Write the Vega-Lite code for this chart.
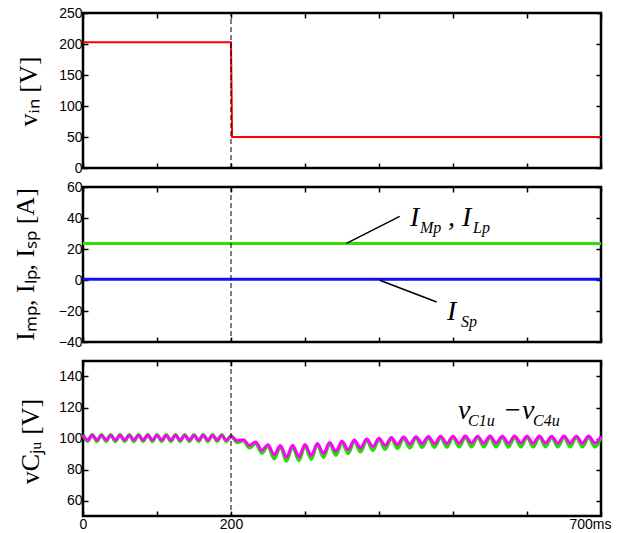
{
  "$schema": "https://vega.github.io/schema/vega-lite/v6.json",
  "autosize": {"type": "pad"},
  "padding": {"left": 10, "top": 4, "right": 10, "bottom": 2},
  "spacing": 19,
  "bounds": "flush",
  "config": {
    "view": {"stroke": "black", "strokeWidth": 2.5},
    "font": "Liberation Sans",
    "axis": {"domain": false, "grid": false, "tickColor": "black", "tickWidth": 1.5, "tickSize": -5, "minExtent": 0,
      "labelFont": "Liberation Sans", "labelFontSize": 14, "labelColor": "black", "labelPadding": 6,
      "titleFont": "Liberation Serif", "titleFontSize": 26, "titleFontWeight": "normal", "titleColor": "black"}
  },
  "datasets": {
    "vin": [{"t": 0, "v": 203}, {"t": 200, "v": 203}, {"t": 201.5, "v": 50}, {"t": 700, "v": 50}],
    "marker": [{"t": 200}],
    "iml": [{"t": 0, "v": 23.6}, {"t": 700, "v": 23.6}],
    "isp": [{"t": 0, "v": 0.5}, {"t": 700, "v": 0.5}],
    "lead2": [{"t": 356, "v": 23.6, "t2": 428, "v2": 41}, {"t": 401, "v": -0.2, "t2": 478, "v2": -14.2}],
    "main2": [{"t": 441.9, "v": 34.7, "label": "I"}, {"t": 493.2, "v": 34.7, "label": ","}, {"t": 512.2, "v": 34.7, "label": "I"}, {"t": 491.9, "v": -25.7, "label": "I"}],
    "sub2": [{"t": 455.4, "v": 30.5, "label": "Mp"}, {"t": 527, "v": 30.5, "label": "Lp"}, {"t": 510.8, "v": -30, "label": "Sp"}],
    "main3": [{"t": 506.8, "v": 112.4, "label": "v"}, {"t": 567.6, "v": 112.4, "label": "−"}, {"t": 593.2, "v": 112.4, "label": "v"}],
    "sub3": [{"t": 520.3, "v": 108, "label": "C1u"}, {"t": 608.1, "v": 108, "label": "C4u"}],
    "vc": [
      {"t": 0, "m": 102, "g": 102.4}, {"t": 6.25, "m": 99, "g": 98.2}, {"t": 12.5, "m": 102.1, "g": 102.5}, {"t": 18.75, "m": 99, "g": 98.1},
      {"t": 25, "m": 102, "g": 102.4}, {"t": 31.25, "m": 99.1, "g": 98.2}, {"t": 37.5, "m": 102, "g": 102.5}, {"t": 43.75, "m": 99, "g": 98.1},
      {"t": 50, "m": 102.1, "g": 102.4}, {"t": 56.25, "m": 99, "g": 98.2}, {"t": 62.5, "m": 102, "g": 102.5}, {"t": 68.75, "m": 99.1, "g": 98.1},
      {"t": 75, "m": 102, "g": 102.4}, {"t": 81.25, "m": 99, "g": 98.2}, {"t": 87.5, "m": 102.1, "g": 102.5}, {"t": 93.75, "m": 99, "g": 98.1},
      {"t": 100, "m": 102, "g": 102.4}, {"t": 106.25, "m": 99.1, "g": 98.2}, {"t": 112.5, "m": 102, "g": 102.5}, {"t": 118.75, "m": 99, "g": 98.1},
      {"t": 125, "m": 102.1, "g": 102.4}, {"t": 131.25, "m": 99, "g": 98.2}, {"t": 137.5, "m": 102, "g": 102.5}, {"t": 143.75, "m": 99.1, "g": 98.1},
      {"t": 150, "m": 102, "g": 102.4}, {"t": 156.25, "m": 99, "g": 98.2}, {"t": 162.5, "m": 102.1, "g": 102.5}, {"t": 168.75, "m": 99, "g": 98.1},
      {"t": 175, "m": 102, "g": 102.4}, {"t": 181.25, "m": 99.1, "g": 98.2}, {"t": 187.5, "m": 102, "g": 102.5}, {"t": 193.75, "m": 99, "g": 98.1},
      {"t": 200, "m": 101.5, "g": 101.8},
      {"t": 208.3, "m": 98.5, "g": 97.5}, {"t": 216.7, "m": 99.2, "g": 98.5}, {"t": 225, "m": 95.5, "g": 94}, {"t": 233.3, "m": 97.8, "g": 97},
      {"t": 241.7, "m": 92.5, "g": 90.5}, {"t": 250, "m": 96, "g": 95.3}, {"t": 258.3, "m": 89.5, "g": 87}, {"t": 266.7, "m": 95.5, "g": 94.8},
      {"t": 275, "m": 88, "g": 85.5}, {"t": 283.3, "m": 95.6, "g": 95}, {"t": 291.7, "m": 88.2, "g": 85.8}, {"t": 300, "m": 96.1, "g": 95.5},
      {"t": 308.3, "m": 89.1, "g": 86.6}, {"t": 316.7, "m": 96.7, "g": 96.2}, {"t": 325, "m": 90.4, "g": 87.9}, {"t": 333.3, "m": 97.4, "g": 96.9},
      {"t": 341.7, "m": 91.7, "g": 89.2}, {"t": 350, "m": 98.2, "g": 97.7}, {"t": 358.3, "m": 92.9, "g": 90.4}, {"t": 366.7, "m": 99, "g": 98.5},
      {"t": 375, "m": 93.9, "g": 91.4}, {"t": 383.3, "m": 99.6, "g": 99.1}, {"t": 391.7, "m": 94.9, "g": 92.4}, {"t": 400, "m": 100.2, "g": 99.7},
      {"t": 408.3, "m": 95.6, "g": 93.1}, {"t": 416.7, "m": 100.7, "g": 100.2}, {"t": 425, "m": 96.2, "g": 93.7}, {"t": 433.3, "m": 101, "g": 100.5},
      {"t": 441.7, "m": 96.5, "g": 94}, {"t": 450, "m": 101.2, "g": 100.7}, {"t": 458.3, "m": 96.7, "g": 94.3}, {"t": 466.7, "m": 101.3, "g": 100.8},
      {"t": 475, "m": 96.8, "g": 94.4}, {"t": 483.3, "m": 101.4, "g": 100.9}, {"t": 491.7, "m": 96.9, "g": 94.5}, {"t": 500, "m": 101.5, "g": 101},
      {"t": 508.3, "m": 97, "g": 94.6}, {"t": 516.7, "m": 101.6, "g": 101.1}, {"t": 525, "m": 97.1, "g": 94.7}, {"t": 533.3, "m": 101.5, "g": 101},
      {"t": 541.7, "m": 97, "g": 94.6}, {"t": 550, "m": 101.6, "g": 101.1}, {"t": 558.3, "m": 97.1, "g": 94.7}, {"t": 566.7, "m": 101.5, "g": 101},
      {"t": 575, "m": 97, "g": 94.5}, {"t": 583.3, "m": 101.6, "g": 101.1}, {"t": 591.7, "m": 97.1, "g": 94.6}, {"t": 600, "m": 101.5, "g": 101},
      {"t": 608.3, "m": 97, "g": 94.6}, {"t": 616.7, "m": 101.6, "g": 101.2}, {"t": 625, "m": 97.1, "g": 94.7}, {"t": 633.3, "m": 101.5, "g": 101},
      {"t": 641.7, "m": 97, "g": 94.6}, {"t": 650, "m": 101.6, "g": 101.1}, {"t": 658.3, "m": 97.1, "g": 94.7}, {"t": 666.7, "m": 101.5, "g": 101},
      {"t": 675, "m": 97, "g": 94.6}, {"t": 683.3, "m": 101.6, "g": 101.1}, {"t": 691.7, "m": 97.1, "g": 94.7}, {"t": 700, "m": 101.5, "g": 101}
    ]
  },
  "vconcat": [
    {
      "width": 518, "height": 155,
      "resolve": {"axis": {"x": "independent", "y": "independent"}},
      "layer": [
        {
          "data": {"name": "vin"},
          "mark": {"type": "line", "color": "#ff0000", "strokeWidth": 2},
          "encoding": {
            "x": {"field": "t", "type": "quantitative", "scale": {"domain": [0, 700], "nice": false},
              "axis": {"orient": "bottom", "values": [0, 100, 200, 300, 400, 500, 600, 700], "labels": false, "title": null}},
            "y": {"field": "v", "type": "quantitative", "scale": {"domain": [0, 250], "nice": false},
              "axis": {"orient": "left", "values": [0, 50, 100, 150, 200, 250], "title": "vᵢₙ [V]",
                "titleX": -47, "titleY": 78, "titleAngle": -90, "titleAlign": "center", "titleBaseline": "alphabetic"}}
          }
        },
        {
          "data": {"name": "marker"},
          "mark": {"type": "rule", "color": "black", "strokeWidth": 1, "strokeDash": [5, 3]},
          "encoding": {
            "x": {"field": "t", "type": "quantitative",
              "axis": {"orient": "top", "values": [0, 100, 200, 300, 400, 500, 600, 700], "labels": false, "title": null}},
            "y": {"datum": 0, "type": "quantitative",
              "axis": {"orient": "right", "values": [0, 50, 100, 150, 200, 250], "labels": false, "title": null}},
            "y2": {"datum": 250}
          }
        }
      ]
    },
    {
      "width": 518, "height": 155,
      "resolve": {"axis": {"x": "independent", "y": "independent"}},
      "layer": [
        {
          "data": {"name": "iml"},
          "mark": {"type": "line", "color": "#33e000", "strokeWidth": 3},
          "encoding": {
            "x": {"field": "t", "type": "quantitative", "scale": {"domain": [0, 700], "nice": false},
              "axis": {"orient": "bottom", "values": [0, 100, 200, 300, 400, 500, 600, 700], "labels": false, "title": null}},
            "y": {"field": "v", "type": "quantitative", "scale": {"domain": [-40, 60], "nice": false},
              "axis": {"orient": "left", "values": [-40, -20, 0, 20, 40, 60], "title": "Iₘₚ, Iₗₚ, Iₛₚ [A]",
                "titleX": -50, "titleY": 77, "titleAngle": -90, "titleAlign": "center", "titleBaseline": "alphabetic"}}
          }
        },
        {
          "data": {"name": "isp"},
          "mark": {"type": "line", "color": "#1010f0", "strokeWidth": 3},
          "encoding": {
            "x": {"field": "t", "type": "quantitative",
              "axis": {"orient": "top", "values": [0, 100, 200, 300, 400, 500, 600, 700], "labels": false, "title": null}},
            "y": {"field": "v", "type": "quantitative",
              "axis": {"orient": "right", "values": [-40, -20, 0, 20, 40, 60], "labels": false, "title": null}}
          }
        },
        {
          "data": {"name": "marker"},
          "mark": {"type": "rule", "color": "black", "strokeWidth": 1, "strokeDash": [5, 3]},
          "encoding": {"x": {"field": "t", "type": "quantitative", "axis": null}}
        },
        {
          "data": {"name": "lead2"},
          "mark": {"type": "rule", "color": "black", "strokeWidth": 1.5},
          "encoding": {
            "x": {"field": "t", "type": "quantitative", "axis": null}, "x2": {"field": "t2"},
            "y": {"field": "v", "type": "quantitative", "axis": null}, "y2": {"field": "v2"}
          }
        },
        {
          "data": {"name": "main2"},
          "mark": {"type": "text", "font": "Liberation Serif", "fontStyle": "italic", "fontSize": 28, "align": "left", "baseline": "alphabetic", "color": "black"},
          "encoding": {
            "x": {"field": "t", "type": "quantitative", "axis": null},
            "y": {"field": "v", "type": "quantitative", "axis": null},
            "text": {"field": "label"}
          }
        },
        {
          "data": {"name": "sub2"},
          "mark": {"type": "text", "font": "Liberation Serif", "fontStyle": "italic", "fontSize": 16, "align": "left", "baseline": "alphabetic", "color": "black"},
          "encoding": {
            "x": {"field": "t", "type": "quantitative", "axis": null},
            "y": {"field": "v", "type": "quantitative", "axis": null},
            "text": {"field": "label"}
          }
        }
      ]
    },
    {
      "width": 518, "height": 155,
      "resolve": {"axis": {"x": "independent", "y": "independent"}},
      "layer": [
        {
          "data": {"name": "vc"},
          "mark": {"type": "line", "color": "#22dd00", "strokeWidth": 3.5, "interpolate": "monotone"},
          "encoding": {
            "x": {"field": "t", "type": "quantitative", "scale": {"domain": [0, 700], "nice": false},
              "axis": {"orient": "bottom", "values": [0, 100, 200, 300, 400, 500, 600, 700], "title": null, "labelFlush": false,
                "labelExpr": "datum.value == 700 ? '700ms' : ((datum.value == 0 || datum.value == 200) ? datum.label : '')",
                "labelOffset": {"condition": {"test": "datum.value == 700", "value": -11}, "value": 0}}},
            "y": {"field": "g", "type": "quantitative", "scale": {"domain": [50, 150], "nice": false},
              "axis": {"orient": "left", "values": [60, 80, 100, 120, 140], "title": "vCⱼᵤ [V]",
                "titleX": -45, "titleY": 80, "titleAngle": -90, "titleAlign": "center", "titleBaseline": "alphabetic"}}
          }
        },
        {
          "data": {"name": "vc"},
          "mark": {"type": "line", "color": "#ff00ff", "strokeWidth": 3, "interpolate": "monotone"},
          "encoding": {
            "x": {"field": "t", "type": "quantitative",
              "axis": {"orient": "top", "values": [0, 100, 200, 300, 400, 500, 600, 700], "labels": false, "title": null}},
            "y": {"field": "m", "type": "quantitative",
              "axis": {"orient": "right", "values": [60, 80, 100, 120, 140], "labels": false, "title": null}}
          }
        },
        {
          "data": {"name": "marker"},
          "mark": {"type": "rule", "color": "black", "strokeWidth": 1, "strokeDash": [5, 3]},
          "encoding": {"x": {"field": "t", "type": "quantitative", "axis": null}}
        },
        {
          "data": {"name": "main3"},
          "mark": {"type": "text", "font": "Liberation Serif", "fontStyle": "italic", "fontSize": 28, "align": "left", "baseline": "alphabetic", "color": "black"},
          "encoding": {
            "x": {"field": "t", "type": "quantitative", "axis": null},
            "y": {"field": "v", "type": "quantitative", "axis": null},
            "text": {"field": "label"}
          }
        },
        {
          "data": {"name": "sub3"},
          "mark": {"type": "text", "font": "Liberation Serif", "fontStyle": "italic", "fontSize": 16, "align": "left", "baseline": "alphabetic", "color": "black"},
          "encoding": {
            "x": {"field": "t", "type": "quantitative", "axis": null},
            "y": {"field": "v", "type": "quantitative", "axis": null},
            "text": {"field": "label"}
          }
        }
      ]
    }
  ]
}
